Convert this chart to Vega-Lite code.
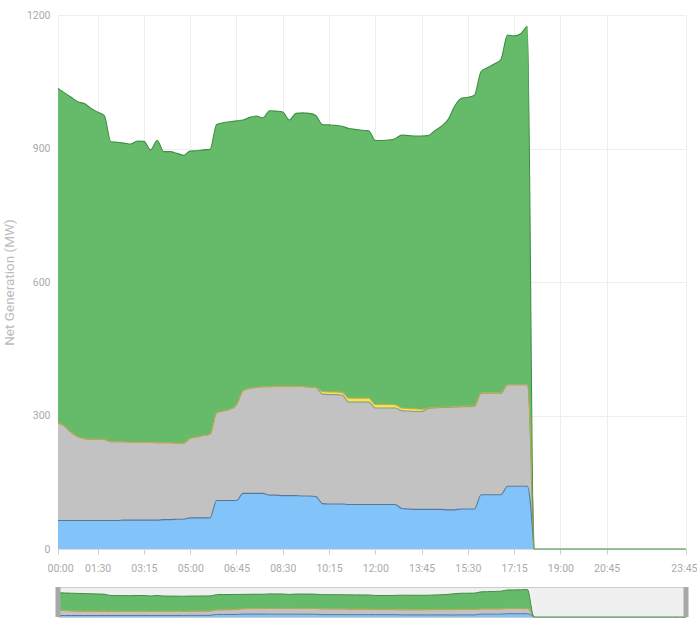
{
"$schema":"https://vega.github.io/schema/vega-lite/v6.json",
"padding":{"left":2,"top":10,"right":0,"bottom":0},
"background":"#ffffff",
"config":{"font":"Roboto","view":{"stroke":null}},
"datasets":{
"gen":[
{"t":"00:00","s":"s1","v":64},{"t":"00:00","s":"s2","v":219},{"t":"00:00","s":"s3","v":0},{"t":"00:00","s":"s4","v":752},
{"t":"00:15","s":"s1","v":64},{"t":"00:15","s":"s2","v":212},{"t":"00:15","s":"s3","v":0},{"t":"00:15","s":"s4","v":749},
{"t":"00:30","s":"s1","v":64},{"t":"00:30","s":"s2","v":198},{"t":"00:30","s":"s3","v":0},{"t":"00:30","s":"s4","v":753},
{"t":"00:45","s":"s1","v":64},{"t":"00:45","s":"s2","v":188},{"t":"00:45","s":"s3","v":0},{"t":"00:45","s":"s4","v":753},
{"t":"01:00","s":"s1","v":64},{"t":"01:00","s":"s2","v":184},{"t":"01:00","s":"s3","v":0},{"t":"01:00","s":"s4","v":753},
{"t":"01:15","s":"s1","v":64},{"t":"01:15","s":"s2","v":183},{"t":"01:15","s":"s3","v":0},{"t":"01:15","s":"s4","v":743},
{"t":"01:30","s":"s1","v":64},{"t":"01:30","s":"s2","v":183},{"t":"01:30","s":"s3","v":0},{"t":"01:30","s":"s4","v":735},
{"t":"01:45","s":"s1","v":64},{"t":"01:45","s":"s2","v":182},{"t":"01:45","s":"s3","v":0},{"t":"01:45","s":"s4","v":728},
{"t":"02:00","s":"s1","v":64},{"t":"02:00","s":"s2","v":177},{"t":"02:00","s":"s3","v":0},{"t":"02:00","s":"s4","v":674},
{"t":"02:15","s":"s1","v":64},{"t":"02:15","s":"s2","v":177},{"t":"02:15","s":"s3","v":0},{"t":"02:15","s":"s4","v":673},
{"t":"02:30","s":"s1","v":65},{"t":"02:30","s":"s2","v":176},{"t":"02:30","s":"s3","v":0},{"t":"02:30","s":"s4","v":671},
{"t":"02:45","s":"s1","v":65},{"t":"02:45","s":"s2","v":175},{"t":"02:45","s":"s3","v":0},{"t":"02:45","s":"s4","v":670},
{"t":"03:00","s":"s1","v":65},{"t":"03:00","s":"s2","v":175},{"t":"03:00","s":"s3","v":0},{"t":"03:00","s":"s4","v":677},
{"t":"03:15","s":"s1","v":65},{"t":"03:15","s":"s2","v":175},{"t":"03:15","s":"s3","v":0},{"t":"03:15","s":"s4","v":676},
{"t":"03:30","s":"s1","v":65},{"t":"03:30","s":"s2","v":175},{"t":"03:30","s":"s3","v":0},{"t":"03:30","s":"s4","v":657},
{"t":"03:45","s":"s1","v":65},{"t":"03:45","s":"s2","v":174},{"t":"03:45","s":"s3","v":0},{"t":"03:45","s":"s4","v":679},
{"t":"04:00","s":"s1","v":66},{"t":"04:00","s":"s2","v":173},{"t":"04:00","s":"s3","v":0},{"t":"04:00","s":"s4","v":654},
{"t":"04:15","s":"s1","v":66},{"t":"04:15","s":"s2","v":173},{"t":"04:15","s":"s3","v":0},{"t":"04:15","s":"s4","v":654},
{"t":"04:30","s":"s1","v":67},{"t":"04:30","s":"s2","v":171},{"t":"04:30","s":"s3","v":0},{"t":"04:30","s":"s4","v":651},
{"t":"04:45","s":"s1","v":67},{"t":"04:45","s":"s2","v":171},{"t":"04:45","s":"s3","v":0},{"t":"04:45","s":"s4","v":647},
{"t":"05:00","s":"s1","v":70},{"t":"05:00","s":"s2","v":179},{"t":"05:00","s":"s3","v":0},{"t":"05:00","s":"s4","v":645},
{"t":"05:15","s":"s1","v":70},{"t":"05:15","s":"s2","v":182},{"t":"05:15","s":"s3","v":0},{"t":"05:15","s":"s4","v":643},
{"t":"05:30","s":"s1","v":70},{"t":"05:30","s":"s2","v":185},{"t":"05:30","s":"s3","v":0},{"t":"05:30","s":"s4","v":642},
{"t":"05:45","s":"s1","v":70},{"t":"05:45","s":"s2","v":188},{"t":"05:45","s":"s3","v":0},{"t":"05:45","s":"s4","v":640},
{"t":"06:00","s":"s1","v":109},{"t":"06:00","s":"s2","v":197},{"t":"06:00","s":"s3","v":0},{"t":"06:00","s":"s4","v":648},
{"t":"06:15","s":"s1","v":109},{"t":"06:15","s":"s2","v":201},{"t":"06:15","s":"s3","v":0},{"t":"06:15","s":"s4","v":648},
{"t":"06:30","s":"s1","v":109},{"t":"06:30","s":"s2","v":205},{"t":"06:30","s":"s3","v":0},{"t":"06:30","s":"s4","v":646},
{"t":"06:45","s":"s1","v":109},{"t":"06:45","s":"s2","v":215},{"t":"06:45","s":"s3","v":0},{"t":"06:45","s":"s4","v":638},
{"t":"07:00","s":"s1","v":125},{"t":"07:00","s":"s2","v":231},{"t":"07:00","s":"s3","v":0},{"t":"07:00","s":"s4","v":608},
{"t":"07:15","s":"s1","v":125},{"t":"07:15","s":"s2","v":236},{"t":"07:15","s":"s3","v":0},{"t":"07:15","s":"s4","v":609},
{"t":"07:30","s":"s1","v":125},{"t":"07:30","s":"s2","v":238},{"t":"07:30","s":"s3","v":0},{"t":"07:30","s":"s4","v":610},
{"t":"07:45","s":"s1","v":125},{"t":"07:45","s":"s2","v":240},{"t":"07:45","s":"s3","v":0},{"t":"07:45","s":"s4","v":604},
{"t":"08:00","s":"s1","v":121},{"t":"08:00","s":"s2","v":244},{"t":"08:00","s":"s3","v":0},{"t":"08:00","s":"s4","v":620},
{"t":"08:15","s":"s1","v":121},{"t":"08:15","s":"s2","v":245},{"t":"08:15","s":"s3","v":0},{"t":"08:15","s":"s4","v":618},
{"t":"08:30","s":"s1","v":120},{"t":"08:30","s":"s2","v":246},{"t":"08:30","s":"s3","v":0},{"t":"08:30","s":"s4","v":616},
{"t":"08:45","s":"s1","v":120},{"t":"08:45","s":"s2","v":246},{"t":"08:45","s":"s3","v":0},{"t":"08:45","s":"s4","v":598},
{"t":"09:00","s":"s1","v":120},{"t":"09:00","s":"s2","v":246},{"t":"09:00","s":"s3","v":0},{"t":"09:00","s":"s4","v":613},
{"t":"09:15","s":"s1","v":119},{"t":"09:15","s":"s2","v":246},{"t":"09:15","s":"s3","v":0},{"t":"09:15","s":"s4","v":615},
{"t":"09:30","s":"s1","v":119},{"t":"09:30","s":"s2","v":245},{"t":"09:30","s":"s3","v":0},{"t":"09:30","s":"s4","v":615},
{"t":"09:45","s":"s1","v":118},{"t":"09:45","s":"s2","v":245},{"t":"09:45","s":"s3","v":0},{"t":"09:45","s":"s4","v":611},
{"t":"10:00","s":"s1","v":102},{"t":"10:00","s":"s2","v":246},{"t":"10:00","s":"s3","v":6},{"t":"10:00","s":"s4","v":600},
{"t":"10:15","s":"s1","v":101},{"t":"10:15","s":"s2","v":246},{"t":"10:15","s":"s3","v":6},{"t":"10:15","s":"s4","v":600},
{"t":"10:30","s":"s1","v":101},{"t":"10:30","s":"s2","v":246},{"t":"10:30","s":"s3","v":6},{"t":"10:30","s":"s4","v":599},
{"t":"10:45","s":"s1","v":101},{"t":"10:45","s":"s2","v":245},{"t":"10:45","s":"s3","v":6},{"t":"10:45","s":"s4","v":598},
{"t":"11:00","s":"s1","v":100},{"t":"11:00","s":"s2","v":230},{"t":"11:00","s":"s3","v":9},{"t":"11:00","s":"s4","v":606},
{"t":"11:15","s":"s1","v":100},{"t":"11:15","s":"s2","v":230},{"t":"11:15","s":"s3","v":9},{"t":"11:15","s":"s4","v":604},
{"t":"11:30","s":"s1","v":100},{"t":"11:30","s":"s2","v":230},{"t":"11:30","s":"s3","v":9},{"t":"11:30","s":"s4","v":602},
{"t":"11:45","s":"s1","v":100},{"t":"11:45","s":"s2","v":230},{"t":"11:45","s":"s3","v":9},{"t":"11:45","s":"s4","v":601},
{"t":"12:00","s":"s1","v":100},{"t":"12:00","s":"s2","v":217},{"t":"12:00","s":"s3","v":8},{"t":"12:00","s":"s4","v":593},
{"t":"12:15","s":"s1","v":100},{"t":"12:15","s":"s2","v":217},{"t":"12:15","s":"s3","v":8},{"t":"12:15","s":"s4","v":593},
{"t":"12:30","s":"s1","v":100},{"t":"12:30","s":"s2","v":217},{"t":"12:30","s":"s3","v":8},{"t":"12:30","s":"s4","v":594},
{"t":"12:45","s":"s1","v":100},{"t":"12:45","s":"s2","v":217},{"t":"12:45","s":"s3","v":7},{"t":"12:45","s":"s4","v":598},
{"t":"13:00","s":"s1","v":91},{"t":"13:00","s":"s2","v":220},{"t":"13:00","s":"s3","v":6},{"t":"13:00","s":"s4","v":613},
{"t":"13:15","s":"s1","v":90},{"t":"13:15","s":"s2","v":220},{"t":"13:15","s":"s3","v":6},{"t":"13:15","s":"s4","v":613},
{"t":"13:30","s":"s1","v":89},{"t":"13:30","s":"s2","v":220},{"t":"13:30","s":"s3","v":6},{"t":"13:30","s":"s4","v":613},
{"t":"13:45","s":"s1","v":89},{"t":"13:45","s":"s2","v":220},{"t":"13:45","s":"s3","v":5},{"t":"13:45","s":"s4","v":614},
{"t":"14:00","s":"s1","v":89},{"t":"14:00","s":"s2","v":227},{"t":"14:00","s":"s3","v":1},{"t":"14:00","s":"s4","v":612},
{"t":"14:15","s":"s1","v":89},{"t":"14:15","s":"s2","v":228},{"t":"14:15","s":"s3","v":1},{"t":"14:15","s":"s4","v":622},
{"t":"14:30","s":"s1","v":89},{"t":"14:30","s":"s2","v":229},{"t":"14:30","s":"s3","v":1},{"t":"14:30","s":"s4","v":631},
{"t":"14:45","s":"s1","v":88},{"t":"14:45","s":"s2","v":230},{"t":"14:45","s":"s3","v":1},{"t":"14:45","s":"s4","v":646},
{"t":"15:00","s":"s1","v":88},{"t":"15:00","s":"s2","v":231},{"t":"15:00","s":"s3","v":1},{"t":"15:00","s":"s4","v":675},
{"t":"15:15","s":"s1","v":90},{"t":"15:15","s":"s2","v":230},{"t":"15:15","s":"s3","v":1},{"t":"15:15","s":"s4","v":692},
{"t":"15:30","s":"s1","v":90},{"t":"15:30","s":"s2","v":230},{"t":"15:30","s":"s3","v":1},{"t":"15:30","s":"s4","v":694},
{"t":"15:45","s":"s1","v":90},{"t":"15:45","s":"s2","v":231},{"t":"15:45","s":"s3","v":1},{"t":"15:45","s":"s4","v":698},
{"t":"16:00","s":"s1","v":122},{"t":"16:00","s":"s2","v":228},{"t":"16:00","s":"s3","v":1},{"t":"16:00","s":"s4","v":722},
{"t":"16:15","s":"s1","v":122},{"t":"16:15","s":"s2","v":228},{"t":"16:15","s":"s3","v":1},{"t":"16:15","s":"s4","v":731},
{"t":"16:30","s":"s1","v":122},{"t":"16:30","s":"s2","v":228},{"t":"16:30","s":"s3","v":1},{"t":"16:30","s":"s4","v":739},
{"t":"16:45","s":"s1","v":122},{"t":"16:45","s":"s2","v":228},{"t":"16:45","s":"s3","v":1},{"t":"16:45","s":"s4","v":749},
{"t":"17:00","s":"s1","v":141},{"t":"17:00","s":"s2","v":228},{"t":"17:00","s":"s3","v":0},{"t":"17:00","s":"s4","v":786},
{"t":"17:15","s":"s1","v":141},{"t":"17:15","s":"s2","v":228},{"t":"17:15","s":"s3","v":0},{"t":"17:15","s":"s4","v":784},
{"t":"17:30","s":"s1","v":141},{"t":"17:30","s":"s2","v":228},{"t":"17:30","s":"s3","v":0},{"t":"17:30","s":"s4","v":789},
{"t":"17:45","s":"s1","v":141},{"t":"17:45","s":"s2","v":228},{"t":"17:45","s":"s3","v":0},{"t":"17:45","s":"s4","v":805},
{"t":"18:00","s":"s1","v":0},{"t":"18:00","s":"s2","v":0},{"t":"18:00","s":"s3","v":0},{"t":"18:00","s":"s4","v":0},
{"t":"18:15","s":"s4","v":0},{"t":"18:30","s":"s4","v":0},{"t":"18:45","s":"s4","v":0},{"t":"19:00","s":"s4","v":0},
{"t":"19:15","s":"s4","v":0},{"t":"19:30","s":"s4","v":0},{"t":"19:45","s":"s4","v":0},{"t":"20:00","s":"s4","v":0},
{"t":"20:15","s":"s4","v":0},{"t":"20:30","s":"s4","v":0},{"t":"20:45","s":"s4","v":0},{"t":"21:00","s":"s4","v":0},
{"t":"21:15","s":"s4","v":0},{"t":"21:30","s":"s4","v":0},{"t":"21:45","s":"s4","v":0},{"t":"22:00","s":"s4","v":0},
{"t":"22:15","s":"s4","v":0},{"t":"22:30","s":"s4","v":0},{"t":"22:45","s":"s4","v":0},{"t":"23:00","s":"s4","v":0},
{"t":"23:15","s":"s4","v":0},{"t":"23:30","s":"s4","v":0},{"t":"23:45","s":"s4","v":0}
],
"handles":[{"t":"00:00"},{"t":"23:45"}]
},
"bounds":"flush",
"spacing":38,
"vconcat":[
{
"width":628,"height":534,
"data":{"name":"gen"},
"transform":[{"stack":"v","groupby":["t"],"sort":[{"field":"s","order":"ascending"}],"as":["y0","y1"]}],
"encoding":{
"x":{"field":"t","type":"ordinal","scale":{"type":"point","padding":0},"sort":"ascending",
"axis":{"title":null,"values":["00:00","01:30","03:15","05:00","06:45","08:30","10:15","12:00","13:45","15:30","17:15","19:00","20:45","23:45"],"labelAngle":0,"labelColor":"#aaaaaa","labelFontSize":10.5,"labelPadding":9,"labelFlush":true,"labelFlushOffset":11,"tickColor":"#cccccc","tickSize":5,"domainColor":"#dddddd","gridColor":"#eeeeee","grid":true}}
},
"layer":[
{"mark":{"type":"area","interpolate":"monotone"},
"encoding":{
"y":{"field":"y1","type":"quantitative","scale":{"domain":[0,1200],"nice":false},
"axis":{"title":"Net Generation (MW)","titleColor":"#bbbbbb","titleFontSize":13.5,"titleFontWeight":"normal","titlePadding":10,"values":[0,300,600,900,1200],"format":"d","labelColor":"#aaaaaa","labelFontSize":10.5,"labelPadding":8,"ticks":false,"domain":false,"gridColor":"#eeeeee"}},
"y2":{"field":"y0"},
"fill":{"field":"s","type":"nominal","scale":{"domain":["s1","s2","s3","s4"],"range":["#82c4f9","#c2c2c2","#f3e45a","#66bb6a"]},"legend":null}
}},
{"mark":{"type":"line","interpolate":"monotone","strokeWidth":1.1},
"encoding":{
"y":{"field":"y1","type":"quantitative"},
"stroke":{"field":"s","type":"nominal","scale":{"domain":["s1","s2","s3","s4"],"range":["#56789c","#8e9a88","#b9ae48","#3f8f43"]},"legend":null}
}}
]
},
{
"width":628,"height":30,
"view":{"fill":"#f0f0f0","stroke":"#cccccc"},
"layer":[
{"data":{"name":"gen"},
"transform":[{"stack":"v","groupby":["t"],"sort":[{"field":"s","order":"ascending"}],"as":["y0","y1"]}],
"mark":{"type":"area","interpolate":"monotone"},
"encoding":{
"x":{"field":"t","type":"ordinal","scale":{"type":"point","padding":0},"axis":null},
"y":{"field":"y1","type":"quantitative","scale":{"domain":[0,1280],"nice":false},"axis":null},
"y2":{"field":"y0"},
"fill":{"field":"s","type":"nominal","scale":{"domain":["s1","s2","s3","s4"],"range":["#82c4f9","#c2c2c2","#f3e45a","#66bb6a"]},"legend":null}
}},
{"data":{"name":"gen"},
"transform":[{"stack":"v","groupby":["t"],"sort":[{"field":"s","order":"ascending"}],"as":["y0","y1"]}],
"mark":{"type":"line","interpolate":"monotone","strokeWidth":1},
"encoding":{
"x":{"field":"t","type":"ordinal","scale":{"type":"point","padding":0},"axis":null},
"y":{"field":"y1","type":"quantitative","axis":null},
"stroke":{"field":"s","type":"nominal","scale":{"domain":["s1","s2","s3","s4"],"range":["#56789c","#8e9a88","#b9ae48","#3f8f43"]},"legend":null}
}},
{"data":{"name":"handles"},
"mark":{"type":"rule","color":"#a8a8a8","strokeWidth":5},
"encoding":{"x":{"field":"t","type":"ordinal","axis":null}}}
]
}
]
}
